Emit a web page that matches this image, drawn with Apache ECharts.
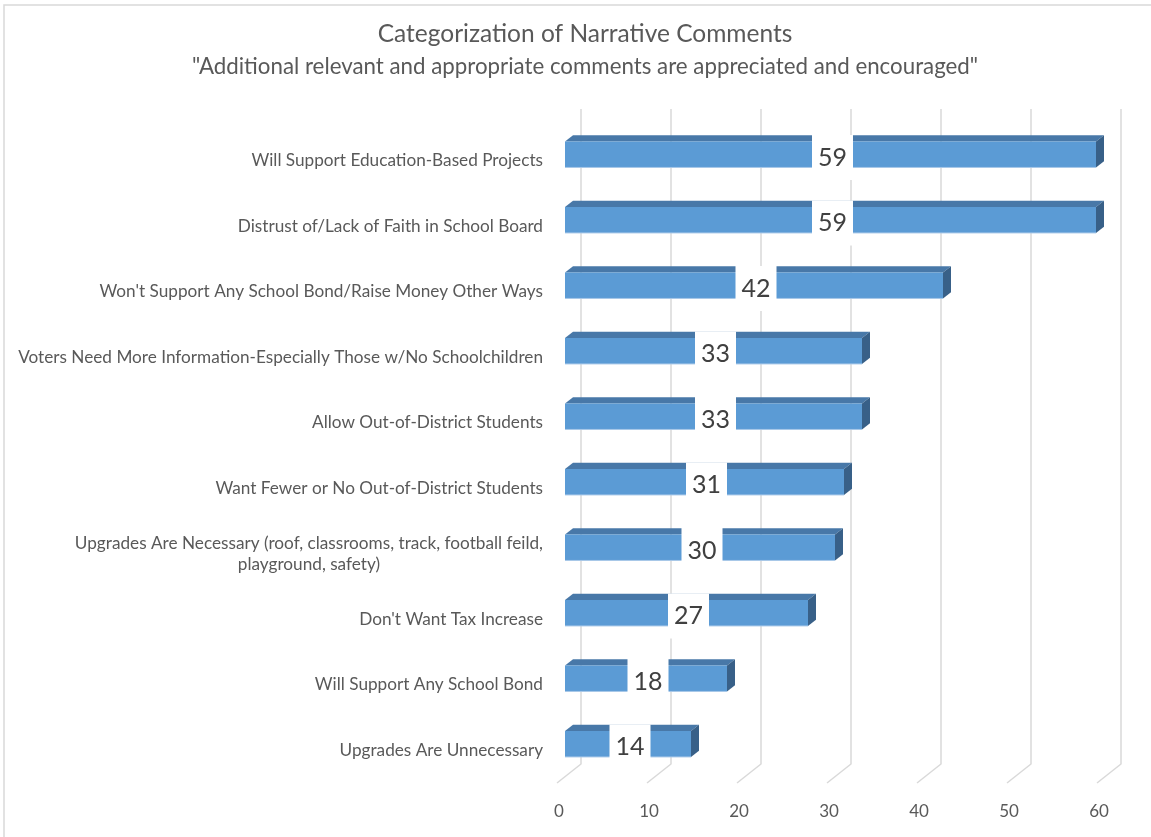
<!DOCTYPE html>
<html>
<head>
<meta charset="utf-8">
<title>Categorization of Narrative Comments</title>
<script src="https://cdn.jsdelivr.net/npm/echarts@6/dist/echarts.min.js"></script>
<style>
  html, body { margin: 0; padding: 0; background: #fff; }
  #chart { width: 1151px; height: 837px; }
</style>
</head>
<body>
<div id="chart"></div>
<script>
// --- data ---
const categories = [
  'Will Support Education-Based Projects',
  'Distrust of/Lack of Faith in School Board',
  "Won't Support Any School Bond/Raise Money Other Ways",
  'Voters Need More Information-Especially Those w/No Schoolchildren',
  'Allow Out-of-District Students',
  'Want Fewer or No Out-of-District Students',
  'Upgrades Are Necessary (roof, classrooms, track, football feild,\nplayground, safety)',
  "Don't Want Tax Increase",
  'Will Support Any School Bond',
  'Upgrades Are Unnecessary'
]
const counts = [59, 59, 42, 33, 33, 31, 30, 27, 18, 14]
const xTicks = [0, 10, 20, 30, 40, 50, 60]

const chart = echarts.init(document.getElementById('chart'))

// fake 3D: floor goes 24px right / 19px up from front to back wall,
// bars sit in the middle third of that depth
const DEPTH_X = 24, DEPTH_Y = 19
const BAR_DX = 8, BAR_DY = 6.3
const BAR_H = 26
const FONT = 'Lato, "Open Sans", sans-serif'

// back wall gridlines + floor diagonals, one per tick
function renderGrid(params, api) {
  const cs = params.coordSys
  const x = api.coord([api.value(0), 0])[0]
  const top = cs.y, bottom = cs.y + cs.height
  return {
    type: 'polyline',
    silent: true,
    shape: { points: [[x + DEPTH_X, top - DEPTH_Y], [x + DEPTH_X, bottom - DEPTH_Y], [x, bottom]] },
    style: { stroke: '#d9d9d9', lineWidth: 1.5, fill: null }
  }
}

function renderBar(params, api) {
  const v = api.value(0), i = api.value(1)
  const p0 = api.coord([0, i]), p1 = api.coord([v, i])
  const x0 = p0[0] + BAR_DX, x1 = p1[0] + BAR_DX
  const yc = p0[1] - BAR_DY          // front face centre
  const yt = yc - BAR_H / 2, yb = yc + BAR_H / 2
  return {
    type: 'group',
    children: [
      { type: 'polygon', shape: { points: [[x0, yt], [x0 + BAR_DX, yt - BAR_DY], [x1 + BAR_DX, yt - BAR_DY], [x1, yt]] },
        style: { fill: '#4878a8' } },
      { type: 'polygon', shape: { points: [[x1, yt], [x1 + BAR_DX, yt - BAR_DY], [x1 + BAR_DX, yb - BAR_DY], [x1, yb]] },
        style: { fill: '#386088' } },
      { type: 'rect', shape: { x: x0, y: yt, width: x1 - x0, height: BAR_H },
        style: { fill: '#5b9bd5' } },
      { type: 'line', shape: { x1: x0, y1: yb, x2: x1, y2: yb },
        style: { stroke: '#a8c8e8', lineWidth: 1 } },
      { type: 'text', x: (x0 + x1) / 2 + 2, y: yc + 3,
        style: {
          text: String(v), fontSize: 25, fontFamily: FONT, fill: '#404040',
          align: 'center', verticalAlign: 'middle', lineHeight: 27,
          backgroundColor: '#fff', padding: [10, 6, 8, 6]
        } }
    ]
  }
}

const option = {
  animation: false,
  backgroundColor: '#fff',
  title: [
    {
      text: 'Categorization of Narrative Comments',
      left: 580, top: 17, textAlign: 'center',
      textStyle: { fontSize: 24.5, fontWeight: 'normal', color: '#595959', fontFamily: FONT }
    },
    {
      text: '"Additional relevant and appropriate comments are appreciated and encouraged"',
      left: 580, top: 51, textAlign: 'center',
      textStyle: { fontSize: 22.3, fontWeight: 'normal', color: '#595959', fontFamily: FONT }
    }
  ],
  graphic: [
    { type: 'rect', shape: { x: 4, y: 5, width: 1300, height: 1000 },
      style: { fill: null, stroke: '#d9d9d9', lineWidth: 1.5 }, silent: true }
  ],
  grid: { left: 557, right: 54, top: 128, bottom: 54, containLabel: false },
  xAxis: {
    type: 'value', min: 0, max: 60, interval: 10,
    axisLine: { show: false }, axisTick: { show: false }, splitLine: { show: false },
    axisLabel: { color: '#595959', fontSize: 17, fontFamily: FONT, margin: 20, padding: [0, 0, 0, 4] }
  },
  yAxis: {
    type: 'category', data: categories, inverse: true,
    axisLine: { show: false }, axisTick: { show: false }, splitLine: { show: false },
    axisLabel: {
      margin: 14,
      formatter: val => val.split('\n').map(s => '{c|' + s + '}').join('\n'),
      rich: { c: { align: 'center', fontSize: 17.2, fontFamily: FONT, color: '#595959', lineHeight: 21 } }
    }
  },
  series: [
    { type: 'custom', name: 'grid', z: 1, silent: true, renderItem: renderGrid,
      data: xTicks.map(t => [t, 0]) },
    { type: 'custom', name: 'Comments', z: 2, renderItem: renderBar,
      data: counts.map((v, i) => [v, i]) }
  ]
}

chart.setOption(option)
window.addEventListener('resize', () => chart.resize())
</script>
</body>
</html>
